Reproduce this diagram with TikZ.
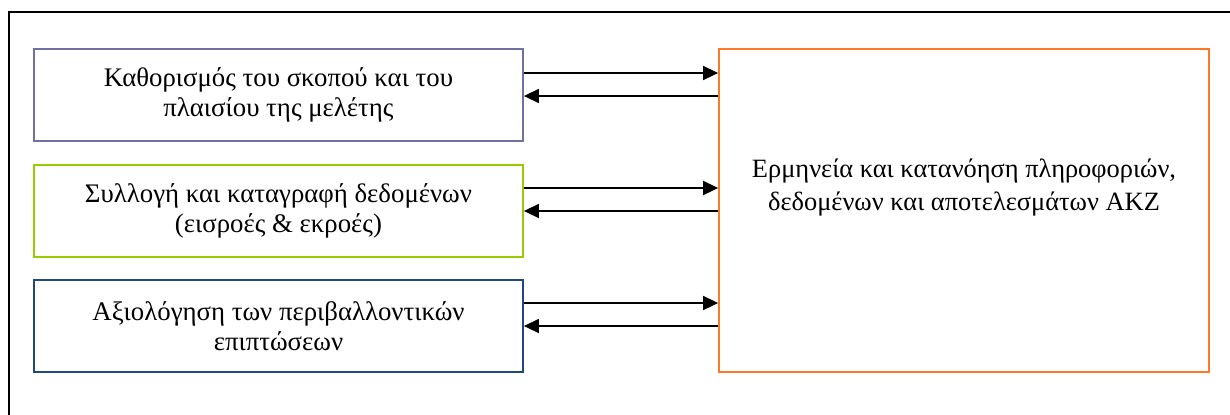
\documentclass[tikz,border=0pt]{standalone}
\usepackage{fontspec}
\setmainfont{Liberation Serif}
\usetikzlibrary{arrows.meta}
\definecolor{cpurple}{RGB}{112,112,165}
\definecolor{cgreen}{RGB}{153,204,0}
\definecolor{cblue}{RGB}{31,73,125}
\definecolor{corange}{RGB}{255,120,40}
\tikzset{
  box/.style={draw, line width=0.9pt, minimum width=244.5pt, minimum height=46pt, align=center, inner sep=0pt},
  txt/.style={align=center, font=\fontsize{13.4}{15.2}\selectfont},
  rtxt/.style={align=center, font=\fontsize{13.2}{16.5}\selectfont},
  arr/.style={line width=0.8pt, -{Triangle[length=7.5pt,width=7pt]}},
}
\begin{document}
\begin{tikzpicture}[x=0.5pt,y=-0.5pt]
\useasboundingbox (0,0) rectangle (1230,414);
\begin{scope}
\clip (0,0) rectangle (1230,414);
\draw[line width=1.1pt] (9,12) rectangle (1240,424);
\end{scope}
\node[box, draw=cpurple, txt] (b1) at (278.5,95) {Καθορισμός του σκοπού και του\\πλαισίου της μελέτης};
\node[box, draw=cgreen, txt] (b2) at (278.5,211) {Συλλογή και καταγραφή δεδομένων\\(εισροές \& εκροές)};
\node[box, draw=cblue, txt] (b3) at (278.5,326) {Αξιολόγηση των περιβαλλοντικών\\επιπτώσεων};
\node[box, draw=corange, minimum width=245pt, minimum height=161.5pt] (r) at (964,210.5) {};
\node[rtxt] (rt) at (964,188) {Ερμηνεία και κατανόηση πληροφοριών,\\δεδομένων και αποτελεσμάτων ΑΚΖ};
\draw[arr] (b1.east |- {(0,73)}) -- (r.west |- {(0,73)});
\draw[arr] (r.west |- {(0,96)}) -- (b1.east |- {(0,96)});
\draw[arr] (b2.east |- {(0,188)}) -- (r.west |- {(0,188)});
\draw[arr] (r.west |- {(0,211)}) -- (b2.east |- {(0,211)});
\draw[arr] (b3.east |- {(0,303)}) -- (r.west |- {(0,303)});
\draw[arr] (r.west |- {(0,326)}) -- (b3.east |- {(0,326)});
\end{tikzpicture}
\end{document}
